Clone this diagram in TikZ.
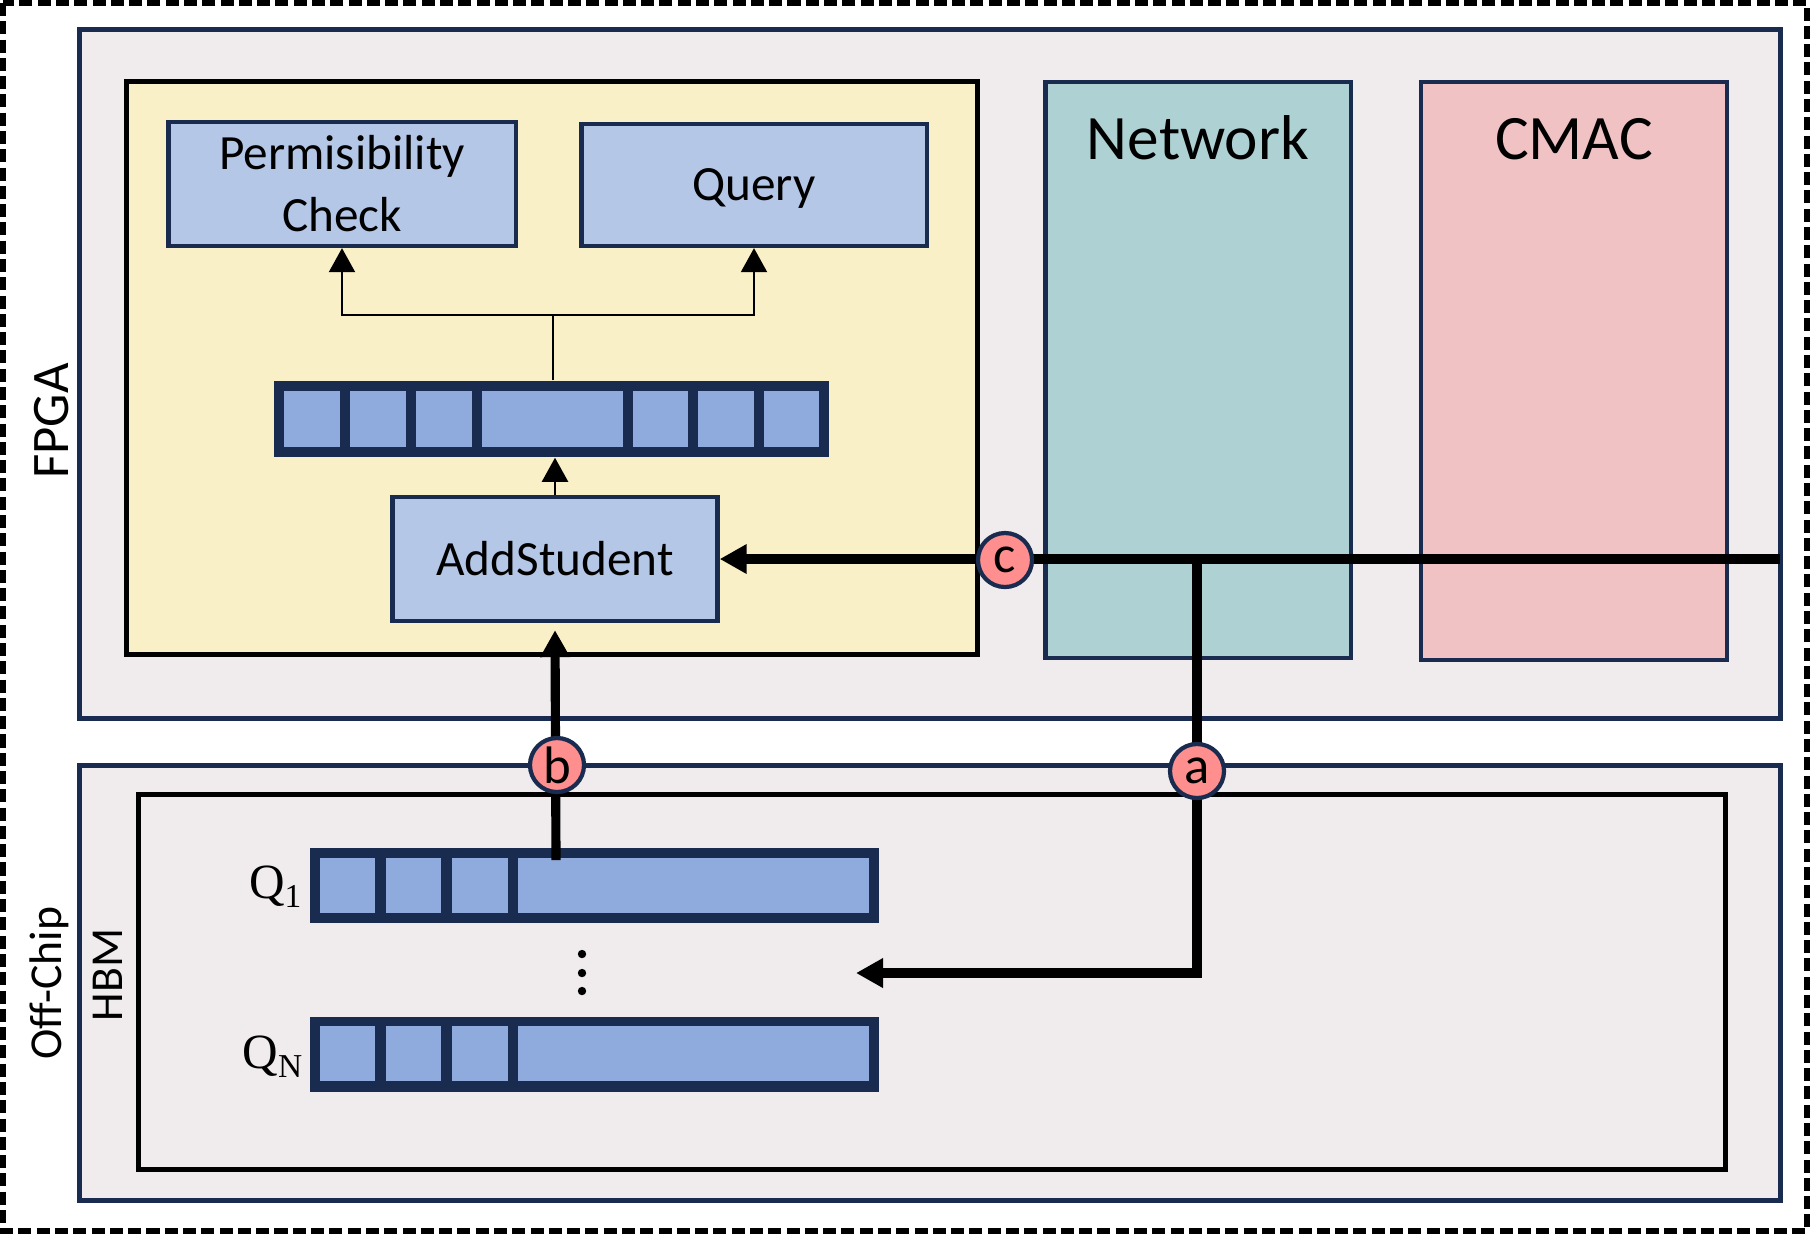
\documentclass[tikz,border=0pt]{standalone}
\usepackage{fontspec}
\setmainfont{Carlito}
\newfontfamily\qserif{Liberation Serif}
\usetikzlibrary{arrows.meta}
\definecolor{navy}{HTML}{1A2B50}
\definecolor{bggray}{HTML}{F0ECED}
\definecolor{softyellow}{HTML}{FAF0C8}
\definecolor{lightblue}{HTML}{B4C7E7}
\definecolor{cellblue}{HTML}{8FAADC}
\definecolor{teal}{HTML}{AED1D4}
\definecolor{pinkish}{HTML}{F0C2C4}
\definecolor{salmon}{HTML}{FF8F8E}
\tikzset{
  region/.style={draw=navy, line width=1.4pt, fill=bggray},
  blkbox/.style={draw=black, line width=1.4pt},
  bluebox/.style={draw=navy, line width=1.2pt, fill=lightblue, inner sep=0pt,
     font=\fontsize{14}{17.6}\selectfont, align=center},
  framebox/.style={fill=navy, draw=none, inner sep=0pt},
  cellbox/.style={fill=cellblue, draw=none},
  marker/.style={circle, draw=navy, line width=1.2pt, fill=salmon, inner sep=0pt,
     minimum size=0.54cm, font=\fontsize{15}{15}\selectfont},
  bigarrow/.style={line width=2.6pt, -{Triangle[length=0.27cm,width=0.28cm]}},
  bigline/.style={line width=2.6pt},
  thinarrow/.style={line width=0.6pt, -{Triangle[length=0.24cm,width=0.26cm]}},
  thinline/.style={line width=0.6pt},
  sidelabel/.style={rotate=90, inner sep=0pt},
}
\begin{document}
\begin{tikzpicture}[x=0.01cm, y=-0.01cm]
\useasboundingbox (0,0) rectangle (1810,1235);
% outer dashed frame
\draw[line width=1.6pt, dash pattern=on 3.7pt off 1.5pt] (3,3) rectangle (1807,1231);
% FPGA region
\node[region, minimum width=17.00cm, minimum height=6.88cm, inner sep=0pt] (fpga) at (930,374) {};
% Off-chip region
\node[region, minimum width=17.00cm, minimum height=4.34cm, inner sep=0pt] (offchip) at (930,983) {};
% HBM inner box
\node[blkbox, minimum width=15.86cm, minimum height=3.75cm, inner sep=0pt] (hbm) at (932,982) {};
% yellow module
\node[blkbox, fill=softyellow, minimum width=8.50cm, minimum height=5.73cm, inner sep=0pt] (mod) at (552,368) {};
% Network and CMAC
\node[draw=navy, line width=1.2pt, fill=teal, minimum width=3.05cm, minimum height=5.75cm, inner sep=0pt] (net) at (1198,370) {};
\node[draw=navy, line width=1.2pt, fill=pinkish, minimum width=3.06cm, minimum height=5.78cm, inner sep=0pt] (cmac) at (1574,371) {};
\node[anchor=base, font=\fontsize{18}{18}\selectfont] (nettxt) at (1198,159) {Network};
\node[anchor=base, font=\fontsize{18}{18}\selectfont] (cmactxt) at (1574,159) {CMAC};
% side labels
\node[sidelabel, font=\fontsize{15}{15}\selectfont] (fpgalbl) at (52,421) {FPGA};
\node[sidelabel, font=\fontsize{13}{13}\selectfont] (offlbl) at (49,983) {Off-Chip};
\node[sidelabel, font=\fontsize{13}{13}\selectfont] (hbmlbl) at (108,975) {HBM};
% blue boxes
\node[bluebox, minimum width=3.47cm, minimum height=1.24cm] (perm) at (342,184) {Permisibility\\Check};
\node[bluebox, minimum width=3.45cm, minimum height=1.22cm, text height=0.32cm, text depth=0.02cm] (query) at (754,185) {Query};
\node[bluebox, minimum width=3.25cm, minimum height=1.24cm] (add) at (555,559) {AddStudent};
% buffer
\node[framebox, minimum width=5.54cm, minimum height=0.76cm] (buf) at (551.5,419) {};
\foreach \a/\b in {284/340,350/406,416/472,482/623,633/688,698/754,764/819}
  \fill[cellblue] (\a,391) rectangle (\b,447);
% queues
\node[framebox, minimum width=5.69cm, minimum height=0.75cm] (q1) at (594.5,885.5) {};
\node[framebox, minimum width=5.69cm, minimum height=0.75cm] (qn) at (594.5,1054.5) {};
\foreach \yy in {858,1026}{
  \foreach \a/\b in {320/375,386/441,452/508,518/869}
    \fill[cellblue] (\a,\yy) rectangle (\b,\yy+55);
}
\node[anchor=base east, inner sep=0pt, font=\fontsize{14}{14}\selectfont\qserif] (q1lbl) at (302,898) {Q\raisebox{-0.2em}{\fontsize{9.5}{9.5}\selectfont 1}};
\node[anchor=base east, inner sep=0pt, font=\fontsize{14}{14}\selectfont\qserif] (qnlbl) at (303,1068) {Q\raisebox{-0.2em}{\fontsize{9.5}{9.5}\selectfont N}};
% vertical dots
\foreach \yy in {954,973,991} \fill (582,\yy) circle (4.2);
% tree connectors
\coordinate (split) at (553,315);
\draw[thinline] (buf.north -| split) -- (split);
\draw[thinarrow] (split) -| (perm.south);
\draw[thinarrow] (split) -| (query.south);
\draw[thinarrow] (add.north) -- (buf.south -| add.north);
% thick connectors
\coordinate (rend) at (1780,559);
\coordinate (tap) at (1197,559);
\coordinate (qin) at (856,973);
\coordinate (bstart) at (556,860);
\draw[bigarrow] (rend) -- (add.east);
\draw[bigarrow] (tap) |- (qin);
\draw[bigarrow] (bstart) -- ([yshift=-0.07cm]add.south);
% markers
\node[marker] (mc) at (1005,560) {c};
\node[marker] (mb) at (557,765) {b};
\node[marker] (ma) at (1197,771) {a};
\end{tikzpicture}
\end{document}
